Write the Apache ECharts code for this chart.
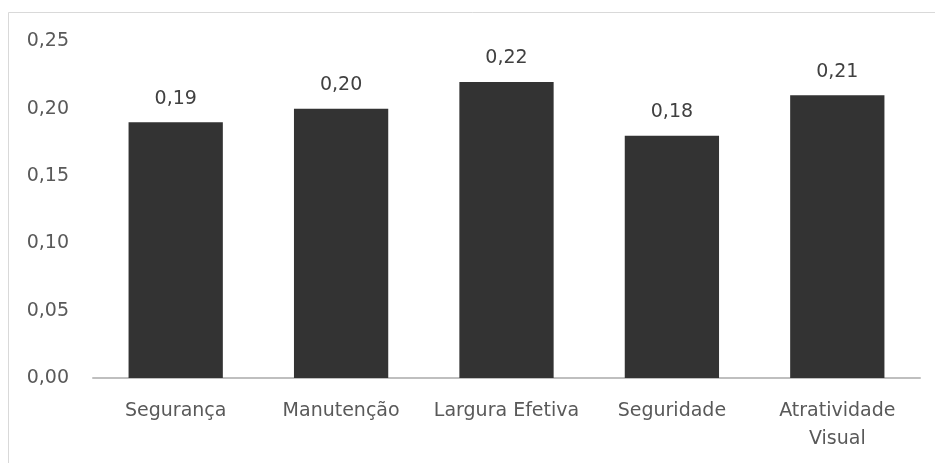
<!DOCTYPE html>
<html>
<head>
<meta charset="utf-8">
<script src="https://cdn.jsdelivr.net/npm/echarts@6/dist/echarts.min.js"></script>
<style>
  html, body { margin: 0; padding: 0; background: #fff; }
  #chart { width: 935px; height: 463px; }
</style>
</head>
<body>
<div id="chart"></div>
<script>
// Criteria and their weights
const categories = ['Segurança', 'Manutenção', 'Largura Efetiva', 'Seguridade', 'Atratividade\nVisual'];
const weights = [0.19, 0.20, 0.22, 0.18, 0.21];

const fmt = v => v.toFixed(2).replace('.', ',');
const FONT = 'DejaVu Sans';

const chart = echarts.init(document.getElementById('chart'));
chart.setOption({
  animation: false,
  backgroundColor: '#fff',
  graphic: [{
    type: 'rect',
    shape: { x: 8.5, y: 12.5, width: 1000, height: 1000 },
    style: { fill: 'none', stroke: '#d9d9d9', lineWidth: 1 },
    silent: true
  }],
  grid: { left: 93, right: 15, top: 41.5, bottom: 85 },
  xAxis: {
    type: 'category',
    data: categories,
    axisTick: { show: false },
    axisLine: { lineStyle: { color: '#bfbfbf', width: 2 } },
    axisLabel: {
      color: '#595959', fontFamily: FONT, fontSize: 19,
      lineHeight: 28, margin: 19, interval: 0
    }
  },
  yAxis: {
    type: 'value',
    min: 0, max: 0.25, interval: 0.05,
    splitLine: { show: false },
    axisLine: { show: false },
    axisTick: { show: false },
    axisLabel: {
      color: '#595959', fontFamily: FONT, fontSize: 19, margin: 24,
      formatter: v => fmt(v)
    }
  },
  series: [{
    type: 'bar',
    data: weights,
    barWidth: '57%',
    itemStyle: { color: '#333333' },
    label: {
      show: true, position: 'top', distance: 14,
      color: '#404040', fontFamily: FONT, fontSize: 19,
      formatter: p => fmt(p.value)
    }
  }]
});
</script>
</body>
</html>
